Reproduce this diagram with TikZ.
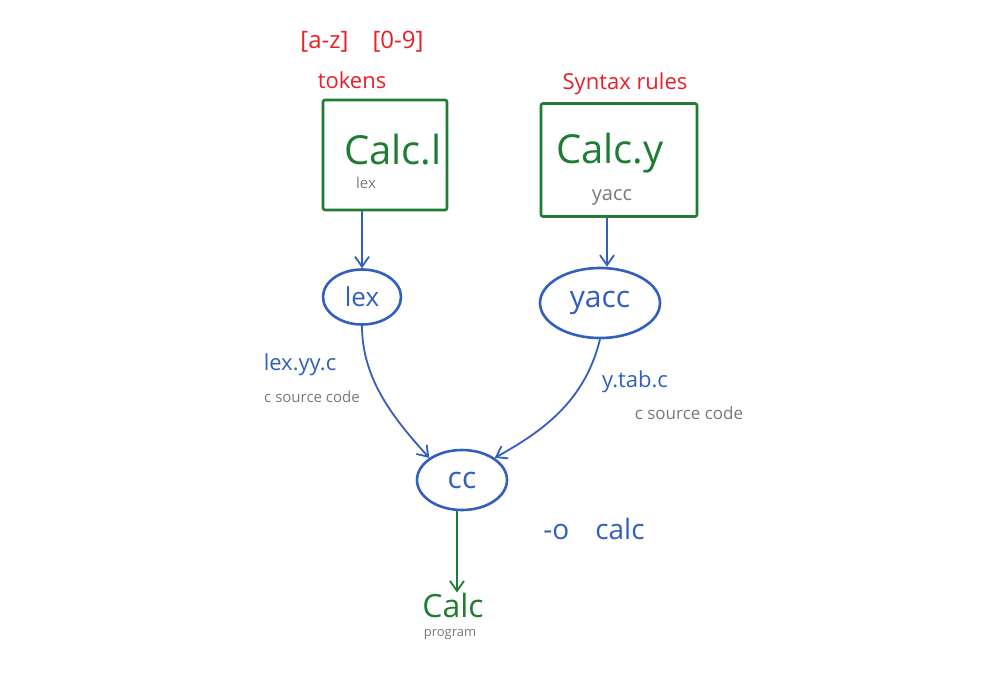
\documentclass[tikz,border=0pt]{standalone}
\usepackage{fontspec}
\setmainfont{Open Sans}
\usetikzlibrary{arrows.meta}
\definecolor{hgreen}{RGB}{30,125,50}
\definecolor{hblue}{RGB}{50,95,190}
\definecolor{hred}{RGB}{235,30,40}
\definecolor{hgray}{RGB}{120,120,120}
\tikzset{
  filebox/.style={draw=hgreen, line width=2.6pt, rounded corners=2pt},
  proc/.style={draw=hblue, ellipse, line width=2.6pt},
  bluearrow/.style={draw=hblue, line width=1.8pt, -{Straight Barb[length=10pt,width=14pt,line width=1.8pt]}},
  greenarrow/.style={draw=hgreen, line width=1.8pt, -{Straight Barb[length=10pt,width=14pt,line width=1.8pt]}},
  redtxt/.style={text=hred, font=\fontsize{22}{24}\selectfont, inner sep=0pt},
  bigtxt/.style={text=hgreen, font=\fontsize{40}{44}\selectfont, inner sep=0pt},
  graytxt/.style={text=hgray, font=\fontsize{15}{17}\selectfont, inner sep=0pt},
  bluetxt/.style={text=hblue, font=\fontsize{22}{24}\selectfont, inner sep=0pt},
}
\usetikzlibrary{shapes.geometric}
\begin{document}
\begin{tikzpicture}[x=1pt,y=-1pt]
\useasboundingbox (0,0) rectangle (981,686);
% red labels
\node[redtxt, font=\fontsize{24}{26}\selectfont] (ranges) at (362,42) {[a-z]\hspace{24pt}[0-9]};
\node[redtxt] (tokens) at (352,80) {tokens};
\node[redtxt] (syntax) at (625,84) {Syntax rules};
% file boxes
\node[filebox, minimum width=124pt, minimum height=110pt] (calcl) at (385,155) {};
\node[bigtxt] (calcltxt) at (393,150) {Calc.l};
\node[graytxt] (lextxt) at (366,183) {lex};
\node[filebox, minimum width=156pt, minimum height=113pt] (calcy) at (619,160) {};
\node[bigtxt] (calcytxt) at (610,153) {Calc.y};
\node[graytxt, font=\fontsize{20}{22}\selectfont] (yacctxt) at (612,197) {yacc};
% processes
\node[proc, minimum width=78pt, minimum height=55pt, text=hblue, font=\fontsize{26}{28}\selectfont] (lex) at (362,297) {lex};
\node[proc, minimum width=120pt, minimum height=70pt, text=hblue, font=\fontsize{30}{32}\selectfont] (yacc) at (600,303) {yacc};
\node[proc, minimum width=90pt, minimum height=60pt, text=hblue, font=\fontsize{30}{32}\selectfont] (cc) at (462,480) {cc};
% output
\node[bigtxt, font=\fontsize{32}{34}\selectfont] (calc) at (453,605) {Calc};
\node[graytxt, font=\fontsize{13}{15}\selectfont] (prog) at (450,635) {program};
% arrows
\draw[bluearrow] (calcl.south -| lex.north) -- (lex.north);
\draw[bluearrow] (calcy.south -| 607,0) -- (yacc.north -| 607,0);
\draw[bluearrow] (lex.south) .. controls (362,380) and (395,420) .. (cc.north west);
\draw[bluearrow] (yacc.south) .. controls (585,400) and (545,430) .. (cc.north east);
\draw[greenarrow] (cc.south -| 457,0) -- (calc.north -| 457,0);
% labels
\node[bluetxt] (lexyy) at (300,365) {lex.yy.c};
\node[graytxt] (csrc1) at (312,397) {c source code};
\node[bluetxt] (ytab) at (635,382) {y.tab.c};
\node[graytxt, font=\fontsize{17}{19}\selectfont] (csrc2) at (689,413) {c source code};
\node[bluetxt, font=\fontsize{28}{30}\selectfont] (oflag) at (594,529) {-o\hspace{26pt}calc};
\end{tikzpicture}
\end{document}
